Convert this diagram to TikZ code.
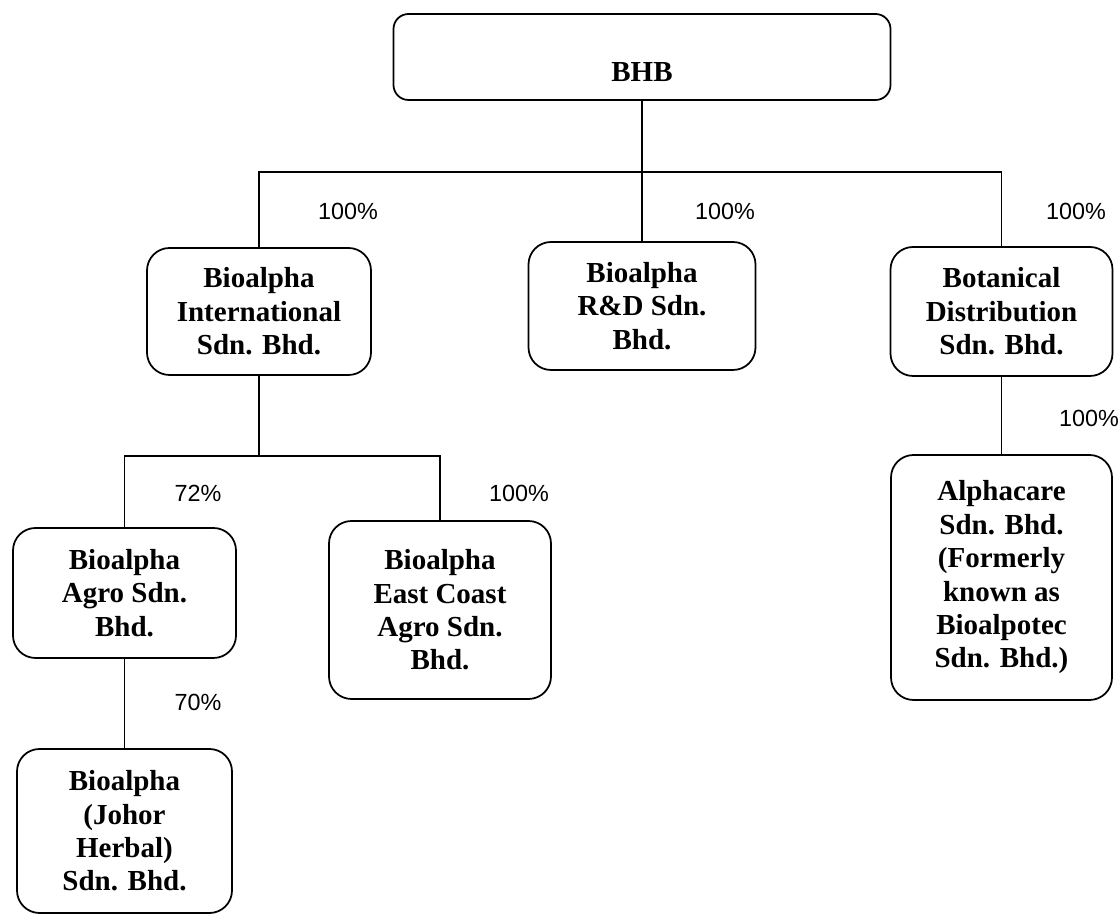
\documentclass[tikz,border=0pt]{standalone}
\usepackage{fontspec}
\setmainfont{Liberation Serif}
\newfontfamily\pctfont{Liberation Sans}
\usetikzlibrary{positioning}

\begin{document}
\begin{tikzpicture}[
  company/.style={draw, line width=1pt, rounded corners=0.45cm, align=center, inner sep=0pt, font=\fontsize{16.5}{19}\selectfont\bfseries},
  pct/.style={font=\pctfont\fontsize{13.3}{16}\selectfont},
  link/.style={line width=0.8pt}]
  \useasboundingbox (0,0) rectangle (22.4,18.28);
  % holding company
  \node[company, rounded corners=0.3cm, minimum width=9.94cm, minimum height=1.72cm, text height=1.2cm, text depth=0.2cm] (bhb) at (12.84,17.14) {BHB};
  % first level
  \node[company, minimum width=4.48cm, minimum height=2.54cm] (intl) at (5.18,12.05) {Bioalpha\\International\\Sdn. Bhd.};
  \node[company, minimum width=4.54cm, minimum height=2.56cm] (rd) at (12.84,12.16) {Bioalpha\\R\&D Sdn.\\Bhd.};
  \node[company, minimum width=4.44cm, minimum height=2.58cm] (botanical) at (20.03,12.05) {Botanical\\Distribution\\Sdn. Bhd.};
  % second level
  \node[company, minimum width=4.46cm, minimum height=2.6cm] (agro) at (2.49,6.42) {Bioalpha\\Agro Sdn.\\Bhd.};
  \node[company, minimum width=4.44cm, minimum height=3.56cm] (eastcoast) at (8.80,6.08) {Bioalpha\\East Coast\\Agro Sdn.\\Bhd.};
  \node[company, minimum width=4.42cm, minimum height=4.9cm] (alphacare) at (20.03,6.73) {Alphacare\\Sdn. Bhd.\\(Formerly\\known as\\Bioalpotec\\Sdn. Bhd.)};
  % third level
  \node[company, minimum width=4.3cm, minimum height=3.28cm] (johor) at (2.49,1.66) {Bioalpha\\(Johor\\Herbal)\\Sdn. Bhd.};

  % connectors
  \coordinate (bus1) at (0,14.84);
  \coordinate (bus2) at (0,9.16);
  \draw[link] (bhb.south) -- (rd.north);
  \draw[link] (intl.north) |- (botanical.north |- bus1) -- (botanical.north);
  \draw[link] (intl.south) -- (intl.south |- bus2);
  \draw[link] (agro.north) |- (eastcoast.north |- bus2) -- (eastcoast.north);
  \draw[link] (agro.south) -- (johor.north);
  \draw[link] (botanical.south) -- (alphacare.north);

  % shareholdings
  \node[pct] (pct-intl) at (6.96,14.06) {100\%};
  \node[pct] (pct-rd) at (14.5,14.06) {100\%};
  \node[pct] (pct-botanical) at (21.52,14.06) {100\%};
  \node[pct] (pct-agro) at (3.96,8.42) {72\%};
  \node[pct] (pct-eastcoast) at (10.38,8.42) {100\%};
  \node[pct] (pct-johor) at (3.96,4.24) {70\%};
  \node[pct] (pct-alphacare) at (21.78,9.92) {100\%};
\end{tikzpicture}
\end{document}
